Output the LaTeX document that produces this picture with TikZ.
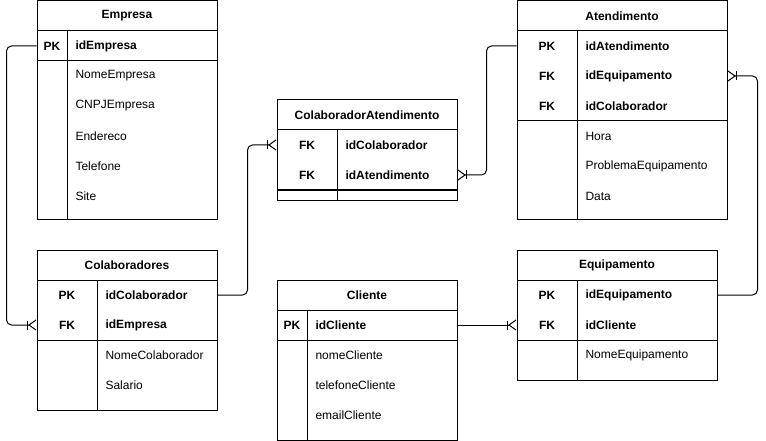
\documentclass[tikz,border=0pt]{standalone}
\usepackage{fontspec}
\setmainfont{Liberation Sans}
\usetikzlibrary{arrows.meta}

\begin{document}
\begin{tikzpicture}[x=1pt,y=-1pt,line width=1pt,
  rel/.style={rounded corners=5pt, -{Bar[width=9pt,sep=0pt] Straight Barb[reversed,length=7pt,width=10pt,sep=0pt]}},
  texto/.style={font=\fontsize{12}{14}\selectfont, inner sep=0pt},
  negrito/.style={font=\bfseries\fontsize{12}{14}\selectfont, inner sep=0pt},
  campo/.style={texto, anchor=west},
  chavecampo/.style={negrito, anchor=west},
  linha/.style={minimum height=30pt, inner sep=0pt}]
\useasboundingbox (0,0) rectangle (766,441);

% Empresa
\draw (37,1) rectangle (217,219);
\draw (37,31) -- (217,31) (37,61) -- (217,61) (67,31) -- (67,219);
\node[negrito] (empT) at (127,16) {Empresa};
\node[linha, minimum width=180pt] (empPK) at (127,46) {};
\node[negrito] (empK1) at (52,46) {PK};
\node[chavecampo] (empN1) at (75,46) {idEmpresa};
\foreach \t [count=\i] in {NomeEmpresa, CNPJEmpresa, Endereco, Telefone, Site}
  \node[campo] (empA\i) at (75,46+30*\i) {\t};

% Colaboradores
\draw (37,250) rectangle (217,410);
\draw (37,280) -- (217,280) (37,340) -- (217,340) (97,280) -- (97,410);
\node[negrito] (colT) at (127,265) {Colaboradores};
\node[linha, minimum width=180pt] (colPK) at (127,295) {};
\node[linha, minimum width=180pt] (colFK) at (127,325) {};
\node[negrito] (colK1) at (67,295) {PK};
\node[negrito] (colK2) at (67,325) {FK};
\node[chavecampo] (colN1) at (105,295) {idColaborador};
\node[chavecampo] (colN2) at (105,325) {idEmpresa};
\foreach \t [count=\i] in {NomeColaborador, Salario}
  \node[campo] (colA\i) at (105,325+30*\i) {\t};

% ColaboradorAtendimento
\draw (277,100) rectangle (457,200);
\draw (277,130) -- (457,130) (277,190) -- (457,190) (337,130) -- (337,200);
\node[negrito] (caT) at (367,115) {ColaboradorAtendimento};
\node[linha, minimum width=180pt] (caFK1) at (367,145) {};
\node[linha, minimum width=180pt] (caFK2) at (367,175) {};
\node[negrito] (caK1) at (307,145) {FK};
\node[negrito] (caK2) at (307,175) {FK};
\node[chavecampo] (caN1) at (345,145) {idColaborador};
\node[chavecampo] (caN2) at (345,175) {idAtendimento};

% Atendimento
\draw (517,1) rectangle (727,219);
\draw (517,31) -- (727,31) (517,121) -- (727,121) (577,31) -- (577,219);
\node[negrito] (ateT) at (622,16) {Atendimento};
\node[linha, minimum width=210pt] (atePK) at (622,46) {};
\node[linha, minimum width=210pt] (ateFK1) at (622,76) {};
\node[negrito] (ateK1) at (547,46) {PK};
\node[negrito] (ateK2) at (547,76) {FK};
\node[negrito] (ateK3) at (547,106) {FK};
\node[chavecampo] (ateN1) at (585,46) {idAtendimento};
\node[chavecampo] (ateN2) at (585,76) {idEquipamento};
\node[chavecampo] (ateN3) at (585,106) {idColaborador};
\foreach \t [count=\i] in {Hora, ProblemaEquipamento, Data}
  \node[campo] (ateA\i) at (585,106+30*\i) {\t};

% Cliente
\draw (277,280) rectangle (457,440);
\draw (277,310) -- (457,310) (277,340) -- (457,340) (307,310) -- (307,440);
\node[negrito] (cliT) at (367,295) {Cliente};
\node[linha, minimum width=180pt] (cliPK) at (367,325) {};
\node[negrito] (cliK1) at (292,325) {PK};
\node[chavecampo] (cliN1) at (315,325) {idCliente};
\foreach \t [count=\i] in {nomeCliente, telefoneCliente, emailCliente}
  \node[campo] (cliA\i) at (315,325+30*\i) {\t};

% Equipamento
\draw (517,250) rectangle (717,380);
\draw (517,280) -- (717,280) (517,340) -- (717,340) (577,280) -- (577,380);
\node[negrito] (equT) at (617,265) {Equipamento};
\node[linha, minimum width=200pt] (equPK) at (617,295) {};
\node[linha, minimum width=200pt] (equFK) at (617,325) {};
\node[negrito] (equK1) at (547,295) {PK};
\node[negrito] (equK2) at (547,325) {FK};
\node[chavecampo] (equN1) at (585,295) {idEquipamento};
\node[chavecampo] (equN2) at (585,325) {idCliente};
\node[campo] (equA1) at (585,355) {NomeEquipamento};

% relacionamentos
\draw[rel] (empPK.west) -- ++(-30,0) |- (colFK.west);
\draw[rel] (colPK.east) -- ++(30,0) |- (caFK1.west);
\draw[rel] (atePK.west) -- ++(-30,0) |- (caFK2.east);
\draw[rel] (equPK.east) -- ++(40,0) |- (ateFK1.east);
\draw[rel] (cliPK.east) -- (equFK.west);
\end{tikzpicture}
\end{document}
